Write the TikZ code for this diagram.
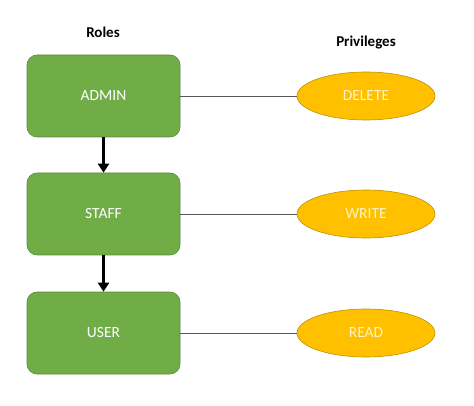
\documentclass[tikz,border=0pt]{standalone}
\usepackage{fontspec}
\setmainfont{Carlito}
\usepackage{tikz}
\usetikzlibrary{shapes.geometric,arrows.meta}
\begin{document}
\begin{tikzpicture}[x=1pt,y=-1pt,
  role/.style={draw=cborder,fill=cfrole,text=clrole,rectangle,rounded corners=10pt,minimum width=153pt,minimum height=82pt,font=\fontsize{15.5}{18}\selectfont,line width=0.6pt},
  priv/.style={draw=cpborder,fill=cfpriv,text=clpriv,ellipse,minimum width=138pt,minimum height=48pt,inner sep=0pt,font=\fontsize{15.5}{18}\selectfont,line width=0.6pt},
  head/.style={font=\bfseries\fontsize{15}{18}\selectfont,text=black},
  link/.style={draw=clink,line width=0.6pt},
  inherit/.style={draw=black,line width=2.6pt,-{Triangle[length=9pt,width=11pt]}}]
\definecolor{cfrole}{rgb}{0.439,0.678,0.278}
\definecolor{cborder}{rgb}{0.353,0.541,0.235}
\definecolor{clrole}{rgb}{1.0,1.0,1.0}
\definecolor{cfpriv}{rgb}{1.0,0.753,0.0}
\definecolor{cpborder}{rgb}{0.741,0.565,0.0}
\definecolor{clpriv}{rgb}{1.0,0.957,0.780}
\definecolor{clink}{rgb}{0.35,0.35,0.35}
%
\useasboundingbox (0,0) rectangle (474,406);
%
\node[head] (roles) at (103,32) {Roles};
\node[head] (privs) at (366,43) {Privileges};
%
\node[role] (admin) at (103.5,96) {ADMIN};
\node[role] (staff) at (103.5,214) {STAFF};
\node[role] (user) at (103.5,333) {USER};
%
\node[priv] (delete) at (366,96) {DELETE};
\node[priv] (write) at (366,214) {WRITE};
\node[priv] (read) at (366,333) {READ};
%
\draw[link] (admin) -- (delete);
\draw[link] (staff) -- (write);
\draw[link] (user) -- (read);
%
\draw[inherit] (admin) -- (staff);
\draw[inherit] (staff) -- (user);
%
\end{tikzpicture}
\end{document}
